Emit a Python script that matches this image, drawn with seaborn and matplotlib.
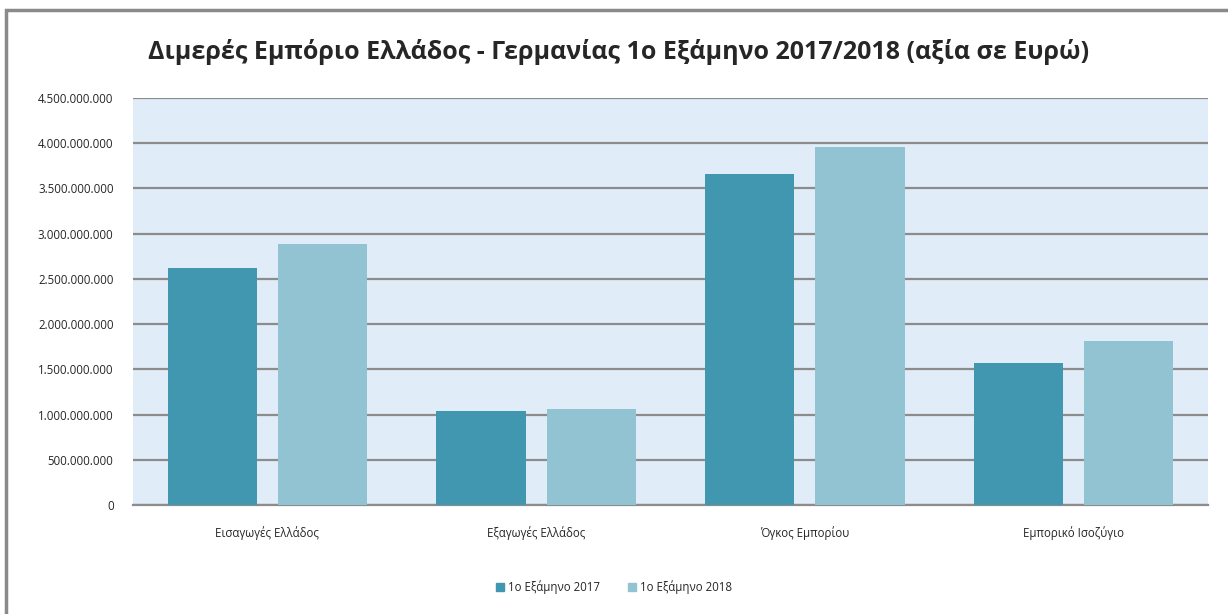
import matplotlib
matplotlib.use("Agg")
import matplotlib.pyplot as plt
import matplotlib.patches as mpatches
import seaborn as sns
import pandas as pd

categories = ['Εισαγωγές Ελλάδος', 'Εξαγωγές Ελλάδος', 'Όγκος Εμπορίου', 'Εμπορικό Ισοζύγιο']
series_names = ['1ο Εξάμηνο 2017', '1ο Εξάμηνο 2018']
values_2017 = [2620000000, 1040000000, 3665000000, 1575000000]
values_2018 = [2885000000, 1060000000, 3960000000, 1815000000]
y_ticks = [0, 500000000, 1000000000, 1500000000, 2000000000,
           2500000000, 3000000000, 3500000000, 4000000000, 4500000000]

df = pd.DataFrame({
    'category': categories * 2,
    'series': [series_names[0]] * 4 + [series_names[1]] * 4,
    'value': values_2017 + values_2018,
})

sns.set_theme(style='white')
plt.rcParams['font.family'] = ['Open Sans', 'DejaVu Sans']

colors = ['#4197b0', '#92c3d3']

fig = plt.figure(figsize=(12.28, 6.14), dpi=100)
fig.patch.set_facecolor('white')
# outer chart frame
fig.add_artist(mpatches.Rectangle((6 / 1228, -0.02), 1.05, (614 - 10) / 614 + 0.02,
                                  transform=fig.transFigure, fill=False,
                                  edgecolor='#8a8a8a', linewidth=2.5))

ax = fig.add_axes([133 / 1228, 109 / 614, 1075 / 1228, 407 / 614])
ax.set_facecolor('#e0ecf8')

sns.barplot(data=df, x='category', y='value', hue='series', palette=colors,
            width=0.82, gap=0.19, ax=ax, legend=False, saturation=1,
            linewidth=0, zorder=3)

ax.set_ylim(0, 4500000000)
ax.set_yticks(y_ticks)
ax.set_yticklabels([f'{v:,}'.replace(',', '.') for v in y_ticks])
ax.yaxis.grid(True, color='#8c8c8c', linewidth=1.6, zorder=1)
ax.set_axisbelow(True)
for s in ['left', 'right', 'top']:
    ax.spines[s].set_visible(False)
ax.spines['bottom'].set_color('#8c8c8c')
ax.spines['bottom'].set_linewidth(1.6)
ax.tick_params(axis='both', length=0, labelsize=8.3)
ax.tick_params(axis='x', pad=15)
ax.tick_params(axis='y', pad=14)
ax.set_xlabel('')
ax.set_ylabel('')

fig.text(0.504, 0.915, 'Διμερές Εμπόριο Ελλάδος - Γερμανίας 1ο Εξάμηνο 2017/2018 (αξία σε Ευρώ)',
         ha='center', va='center', fontsize=18, fontweight='bold')

handles = [mpatches.Patch(color=c, label=n) for c, n in zip(colors, series_names)]
fig.legend(handles=handles, loc='center', bbox_to_anchor=(0.5, 0.044), ncol=2,
           frameon=False, fontsize=8.3, handlelength=0.7, handleheight=0.7,
           handletextpad=0.3, columnspacing=2.5)

fig.savefig('out.png', dpi=100)
